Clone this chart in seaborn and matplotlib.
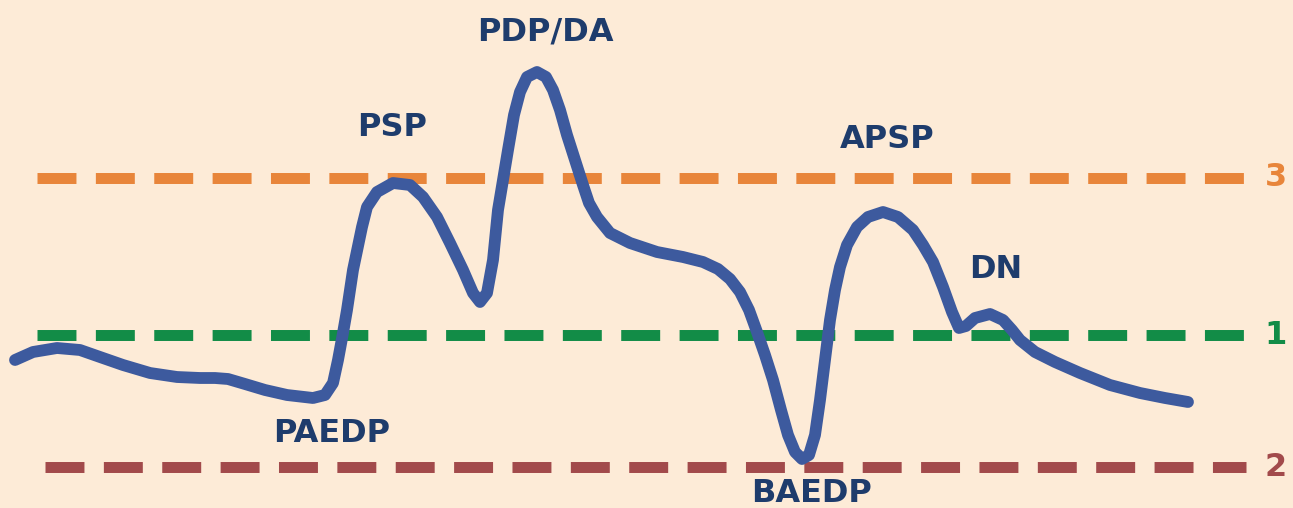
import numpy as np
import matplotlib.pyplot as plt
import seaborn as sns

# Pressure waveform (x position, level; level grows downward)
wave_x = [15, 33, 57, 80, 100, 123, 150, 177, 200, 215, 228, 245, 265, 287, 313, 325,
          333, 338, 343, 347, 353, 362, 367, 377, 393, 410, 423, 437, 450, 463, 473,
          480, 487, 493, 498, 503, 508, 514, 520, 527, 537, 546, 553, 560, 567, 575,
          583, 589, 597, 610, 630, 657, 683, 703, 718, 730, 740, 749, 757, 765, 773,
          781, 788, 795, 802, 809, 815, 820, 825, 830, 835, 840, 847, 857, 868, 883,
          898, 913, 923, 933, 943, 952, 959, 966, 975, 990, 1003, 1012, 1020, 1035,
          1055, 1080, 1110, 1140, 1165, 1188]
wave_y = [360, 352, 348, 350, 357, 365, 373, 377, 378, 378, 379, 384, 390, 395, 398, 395,
          383, 360, 333, 310, 270, 227, 207, 192, 183, 185, 197, 217, 243, 270, 293,
          302, 293, 260, 210, 180, 150, 115, 92, 77, 72, 77, 90, 110, 135, 160,
          185, 203, 217, 233, 243, 252, 257, 262, 269, 279, 292, 310, 332, 355, 380,
          410, 435, 452, 459, 455, 435, 400, 360, 320, 290, 267, 245, 227, 217, 212,
          217, 230, 245, 262, 287, 312, 328, 326, 318, 314, 320, 330, 340, 352,
          362, 373, 385, 393, 398, 402]

# Reference levels
level_names = ['3', '1', '2']
level_y = [178, 335, 467]
level_start = [37, 37, 45]
level_colors = ['#E8853A', '#128C47', '#A24A4B']

# Annotated points
point_labels = ['PDP/DA', 'PSP', 'APSP', 'DN', 'PAEDP', 'BAEDP']
label_x = [545, 392, 887, 996, 332, 812]
label_y = [32, 127, 140, 270, 433, 493]

bg = '#FDEBD7'
sns.set_theme(style='white')
plt.rcParams['font.family'] = ['DejaVu Sans']

fig = plt.figure(figsize=(12.93, 5.08), dpi=100)
fig.patch.set_facecolor(bg)
ax = fig.add_axes([0, 0, 1, 1])
ax.set_facecolor(bg)

for name, y, x0, c in zip(level_names, level_y, level_start, level_colors):
    ax.plot([x0, 1246], [y, y], color=c, lw=7.9, dashes=(3.55, 1.77),
            solid_capstyle='butt', dash_capstyle='butt', zorder=1)
    ax.text(1276, y, name, color=c, fontsize=23, fontweight='bold',
            ha='center', va='center')

sns.lineplot(x=wave_x, y=wave_y, sort=False, color='#3D5A9E', linewidth=8.5,
             ax=ax, zorder=2, solid_capstyle='round', solid_joinstyle='round')

for t, x, y in zip(point_labels, label_x, label_y):
    ax.text(x, y, t, color='#1E3C6C', fontsize=23, fontweight='bold',
            ha='center', va='center')

ax.set_xlim(0, 1293)
ax.set_ylim(508, 0)
ax.axis('off')

plt.savefig('out.png', dpi=100, facecolor=bg)
